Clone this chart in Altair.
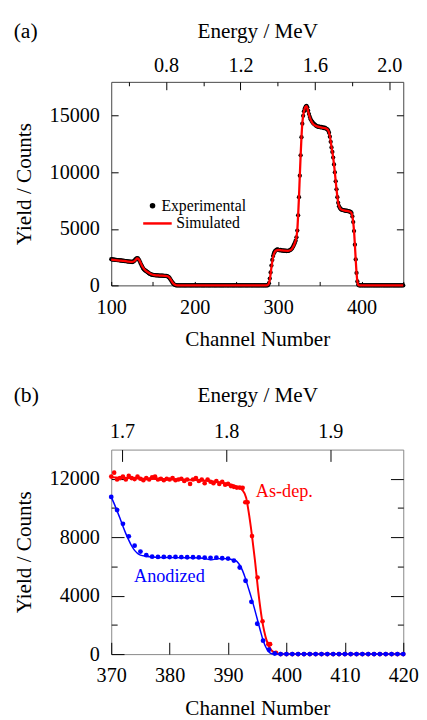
import altair as alt
import pandas as pd

SERIF = "Liberation Serif"

# ------------------------------------------------------------------ panel (a)
# experimental yield, one value per channel, split in segments (start channel, values)
exp_a_100 = [2320, 2290, 2300, 2270, 2280, 2250, 2260, 2240, 2230, 2240,
             2210, 2200, 2210, 2180, 2170, 2180, 2150, 2140, 2150, 2120,
             2110, 2120, 2100, 2080, 2090, 2070, 2090, 2130]
exp_a_128 = [2200, 2290, 2370, 2410, 2380, 2280, 2150, 1980, 1820, 1670,
             1530, 1420, 1360, 1300, 1250, 1200, 1140, 1080, 1030, 990,
             960, 940, 930, 910, 900, 895, 890, 880, 880, 870,
             870, 865, 860, 860, 855, 850, 845, 840, 830, 810,
             780, 720, 630, 520, 400, 290, 190, 110, 50, 15]
exp_a_178 = [0, 0, 10, 0, 0, 0, 0, 10, 0, 0,
             0, 0, 0, 0, 10, 0, 0, 0, 0, 0,
             0, 10, 0, 0, 0, 0, 0, 0, 10, 0,
             0, 0, 0, 0, 0, 0, 10, 0, 0, 0,
             0, 0, 0, 10, 0, 0, 0, 0, 0, 0,
             10, 0, 0, 0, 0, 0, 0, 0, 0, 10,
             0, 0, 0, 0, 0, 10, 0, 0, 0, 0,
             0, 0, 10, 0, 0, 0, 0, 0, 0, 0,
             0, 10, 0, 0, 0, 0, 0, 0, 10, 0,
             0, 0, 0, 0, 10, 0, 0, 0, 0, 0,
             0, 0, 10, 0, 0, 0, 0, 10, 0, 0]
exp_a_288 = [30, 200, 600, 1150, 1750, 2250, 2600, 2850, 3000, 3080,
             3150, 3180, 3160]
exp_a_301 = [3120, 3100, 3130, 3080, 3100, 3060, 3090, 3050, 3070, 3040,
             3060, 3050, 3080, 3100, 3150, 3220]
exp_a_317 = [3300, 3450, 3600, 3750, 3950, 4250, 4850, 6200, 7800, 9700,
             11500, 13100, 14300, 15000, 15400, 15650, 15800, 15880, 15750, 15450,
             15150, 14900, 14700, 14550, 14450, 14350, 14280, 14220, 14150]
exp_a_346 = [14100, 14050, 14020, 14060, 14000, 13980, 14020, 13950, 13980, 13900,
             13950, 13880, 13850, 13800, 13700, 13500, 13150, 12700, 12200, 11800,
             11300, 10700, 10000, 9200, 8500, 7800, 7300, 7000, 6850, 6750]
exp_a_376 = [6700, 6680, 6650, 6640, 6620, 6600, 6610, 6580, 6560, 6550,
             6520, 6500, 6400, 6100, 5600, 4800, 3600, 2300, 1100, 350, 60]
exp_a_397 = [0, 0, 0, 0, 10, 0, 0, 0, 0, 0,
             0, 0, 0, 0, 0, 10, 0, 0, 0, 0,
             0, 0, 0, 0, 0, 0, 0, 10, 0, 0,
             0, 0, 0, 0, 0, 0, 0, 0, 0, 10,
             0, 0, 0, 0, 0, 0, 0, 0, 0, 0,
             0, 10, 0, 0]
exp_a_segments = [(100, exp_a_100), (128, exp_a_128), (178, exp_a_178),
                  (288, exp_a_288), (301, exp_a_301), (317, exp_a_317),
                  (346, exp_a_346), (376, exp_a_376), (397, exp_a_397)]

sim_ch_a = [100, 105, 110, 115, 120, 125, 127, 129, 131, 133,
            135, 137, 139, 141, 144, 148, 152, 158, 164, 167,
            169, 171, 173, 175, 177, 179, 286, 288, 290, 292,
            294, 296, 298, 300, 304, 308, 312, 315, 317, 319,
            320, 321, 322, 323, 324, 325, 326, 327, 328, 329,
            330, 331, 332, 333, 334, 335, 336, 337, 338, 340,
            342, 345, 350, 355, 358, 360, 362, 364, 366, 368,
            370, 372, 374, 376, 380, 385, 387, 388, 389, 390,
            391, 392, 393, 394, 395, 396, 397, 450]
sim_a = [2280, 2240, 2200, 2160, 2110, 2080, 2110, 2230, 2380, 2300,
         2020, 1720, 1480, 1320, 1160, 990, 910, 870, 850, 820,
         740, 560, 320, 130, 30, 0, 0, 60, 500, 1600,
         2500, 2950, 3100, 3130, 3100, 3070, 3060, 3120, 3280, 3550,
         3750, 3950, 4300, 4900, 6200, 7800, 9700, 11500, 13100, 14300,
         15000, 15400, 15650, 15800, 15850, 15700, 15400, 15100, 14850, 14500,
         14280, 14120, 14000, 13920, 13850, 13720, 13200, 12250, 11300, 10000,
         8500, 7300, 6850, 6700, 6620, 6550, 6480, 6380, 6100, 5600,
         4800, 3600, 2300, 1100, 350, 60, 0, 0]

ch_domain_a = [100, 450]
y_domain_a = [0, 18000]
ch_labels_a = [100, 200, 300, 400]
ch_ticks_a = [100, 150, 200, 250, 300, 350, 400, 450]
y_ticks_a = [0, 5000, 10000, 15000]
energy_domain_a = [0.505, 2.075]
energy_major_a = [0.8, 1.2, 1.6, 2.0]
energy_minor_a = [0.6, 1.0, 1.4, 1.8]

# ------------------------------------------------------------------ panel (b)
asdep_ch = [370.0, 370.5, 371.0, 371.5, 372.0, 372.5, 373.0, 373.5, 374.0, 374.5,
            375.0, 375.5, 376.0, 376.5, 377.0, 377.5, 378.0, 378.5, 379.0, 379.5,
            380.0, 380.5, 381.0, 381.5, 382.0, 382.5, 383.0, 383.5, 384.0, 384.5,
            385.0, 385.5, 386.0, 386.5, 387.0, 387.5, 388.0, 388.5, 389.0, 389.5,
            390.0, 390.5, 391.0, 391.5, 392.0, 392.5,
            392.95, 393.35, 394.1, 395.05, 395.9, 396.9, 397.2, 398.2,
            399, 400, 401, 402, 403, 404, 405, 406, 407, 408,
            409, 410, 411, 412, 413, 414, 415, 416, 417, 418, 419, 420]
asdep_y = [12150, 12420, 11950, 12050, 12150, 11950, 12200, 12050, 11980, 12150,
           12000, 11900, 12050, 11950, 12100, 12150, 11950, 12000, 11900, 12000,
           11950, 12050, 11900, 11950, 12000, 11850, 11950, 11650, 11950, 12050,
           11850, 11950, 11700, 11950, 11800, 11700, 11850, 11650, 11800, 11600,
           11650, 11500, 11450, 11400, 11400, 11380,
           10400, 10400, 8080, 5240, 2250, 680, 680, 90,
           0, 0, 0, 0, 0, 0, 0, 0, 0, 0,
           0, 0, 0, 0, 0, 0, 0, 0, 0, 0, 0, 0]
asdep_line_ch = [370, 373, 376, 379, 382, 385, 388, 390, 391, 391.6,
                 392.4, 393.1, 393.5, 394.1, 394.6, 395.2, 395.8, 396.6, 397.4, 398.3,
                 399, 420]
asdep_line_y = [12100, 12050, 12000, 11980, 11950, 11900, 11800, 11650, 11550, 11450,
                11250, 10700, 9800, 8100, 6430, 4190, 2400, 940, 270, 50,
                0, 0]

anod_ch = list(range(370, 421))
anod_y = [10760, 9860, 8920, 8060, 7420, 7020, 6770, 6670, 6650, 6650,
          6640, 6650, 6640, 6630, 6630, 6620, 6600, 6590, 6600, 6560,
          6540, 6400, 5930, 5020, 3580, 2080, 920, 300, 40, 0,
          0, 0, 0, 0, 0, 0, 0, 0, 0, 0,
          0, 0, 0, 0, 0, 0, 0, 0, 0, 0, 0]
anod_line_ch = [370, 370.5, 371, 371.5, 372, 372.5, 373, 373.5, 374, 374.5,
                375, 376, 377, 378, 380, 382, 384, 386, 387, 388,
                389, 390, 391, 391.5, 392, 392.5, 393, 393.5, 394, 394.5,
                395, 395.5, 396, 396.5, 397, 397.5, 398, 420]
anod_line_y = [10750, 10300, 9800, 9300, 8750, 8250, 7800, 7400, 7100, 6900,
               6780, 6700, 6650, 6620, 6610, 6600, 6590, 6550, 6450, 6520,
               6540, 6520, 6450, 6350, 6100, 5700, 5150, 4500, 3850, 3150,
               2400, 1650, 950, 450, 150, 30, 0, 0]

notes_b = ["As-dep.", "Anodized"]
notes_ch = [394.75, 373.9]
notes_y = [11190, 5360]
notes_color = ["red", "blue"]

ch_domain_b = [370, 420]
y_domain_b = [0, 14000]
ch_ticks_b = [370, 380, 390, 400, 410, 420]
y_major_b = [0, 4000, 8000, 12000]
y_minor_b = [2000, 6000, 10000]
energy_domain_b = [1.6896, 1.970]
energy_major_b = [1.7, 1.8, 1.9]

# ------------------------------------------------------------------ helpers
W = 297
H_A, H_B = 207, 208
LABEL_SIZE = 20.5
TITLE_SIZE = 21.5


def label_axis(orient, values, title, fmt, pad, tpad):
    return alt.Axis(orient=orient, values=values, title=title, format=fmt,
                    ticks=False, tickSize=0, domain=False, grid=False,
                    labelPadding=pad, titlePadding=tpad, labelFlush=False,
                    labelOverlap=False, labelFont=SERIF, labelFontSize=LABEL_SIZE,
                    labelColor="black", titleFont=SERIF, titleFontSize=TITLE_SIZE,
                    titleFontWeight="normal", titleColor="black")


def tick_axis(orient, values, size):
    return alt.Axis(orient=orient, values=values, labels=False, title=None,
                    domain=False, grid=False, ticks=True,
                    tickSize=alt.ExprRef(expr=str(-size)),
                    tickColor="black", tickWidth=1)


def qscale(dom):
    return alt.Scale(domain=dom, nice=False, zero=False)


# ------------------------------------------------------------------ build (a)
ch_a, exp_a = [], []
for start, vals in exp_a_segments:
    ch_a += list(range(start, start + len(vals)))
    exp_a += vals

df_exp_a = pd.DataFrame({"ch": ch_a, "y": exp_a, "series": "Experimental"})
df_sim_a = pd.DataFrame({"ch": sim_ch_a, "y": sim_a, "series": "Simulated"})
df_dum_a = pd.DataFrame({"xv": [energy_major_a[1]], "yv": [y_ticks_a[0]]})

pts_a = alt.Chart(df_exp_a).mark_circle(size=19, opacity=1).encode(
    x=alt.X("ch:Q", scale=qscale(ch_domain_a),
            axis=label_axis("bottom", ch_labels_a, "Channel Number", "d", 13, 11)),
    y=alt.Y("y:Q", scale=qscale(y_domain_a),
            axis=label_axis("left", y_ticks_a, "Yield / Counts", "d", 12, 14)),
    fill=alt.Fill("series:N", scale=alt.Scale(domain=["Experimental"], range=["black"]),
                  legend=alt.Legend(title=None, orient="none", legendX=34, legendY=118,
                                    symbolType="circle", symbolSize=32,
                                    labelFont=SERIF, labelFontSize=16, labelColor="black",
                                    labelOffset=1, padding=0)),
)
line_a = alt.Chart(df_sim_a).mark_line(strokeWidth=2.3, interpolate="monotone").encode(
    x=alt.X("ch:Q", scale=qscale(ch_domain_a), axis=tick_axis("bottom", ch_ticks_a, 4)),
    y=alt.Y("y:Q", scale=qscale(y_domain_a), axis=tick_axis("right", y_ticks_a, 7)),
    stroke=alt.Stroke("series:N", scale=alt.Scale(domain=["Simulated"], range=["red"]),
                      legend=alt.Legend(title=None, orient="none", legendX=31, legendY=128,
                                        symbolType="stroke", symbolSize=841,
                                        symbolStrokeWidth=2.5,
                                        labelFont=SERIF, labelFontSize=16, labelColor="black",
                                        labelOffset=3, padding=0)),
)
dum_a1 = alt.Chart(df_dum_a).mark_point(opacity=0).encode(
    x=alt.X("xv:Q", scale=qscale(energy_domain_a),
            axis=label_axis("top", energy_major_a, "Energy / MeV", ".1f", 6.5, 13.5)),
    y=alt.Y("yv:Q", scale=qscale(y_domain_a), axis=tick_axis("left", y_ticks_a, 7)),
)
dum_a2 = alt.Chart(df_dum_a).mark_point(opacity=0).encode(
    x=alt.X("xv:Q", scale=qscale(energy_domain_a), axis=tick_axis("top", energy_major_a, 8)),
    y=alt.Y("yv:Q", scale=qscale(y_domain_a), axis=None),
)
dum_a3 = alt.Chart(df_dum_a).mark_point(opacity=0).encode(
    x=alt.X("xv:Q", scale=qscale(energy_domain_a), axis=tick_axis("top", energy_minor_a, 4)),
    y=alt.Y("yv:Q", scale=qscale(y_domain_a), axis=None),
)

panel_a = alt.layer(pts_a, line_a, dum_a1, dum_a2, dum_a3).resolve_scale(
    x="independent").resolve_axis(x="independent", y="independent").properties(
    width=W, height=H_A,
    title=alt.TitleParams("(a)", anchor="start", frame="bounds", font=SERIF, fontSize=22,
                          fontWeight="normal", color="black", offset=-22),
    view=alt.ViewBackground(stroke="#444"),
)

# ------------------------------------------------------------------ build (b)
df_asdep = pd.DataFrame({"ch": asdep_ch, "y": asdep_y})
df_asdep_l = pd.DataFrame({"ch": asdep_line_ch, "y": asdep_line_y})
df_anod = pd.DataFrame({"ch": anod_ch, "y": anod_y})
df_anod_l = pd.DataFrame({"ch": anod_line_ch, "y": anod_line_y})
df_notes = pd.DataFrame({"ch": notes_ch, "y": notes_y, "t": notes_b, "c": notes_color})
df_dum_b = pd.DataFrame({"xv": [energy_major_b[1]], "yv": [y_major_b[0]]})

xb = qscale(ch_domain_b)
yb = qscale(y_domain_b)

pts_r = alt.Chart(df_asdep).mark_circle(size=22, opacity=1, color="red").encode(
    x=alt.X("ch:Q", scale=xb, axis=label_axis("bottom", ch_ticks_b, "Channel Number", "d", 11.7, 12.4)),
    y=alt.Y("y:Q", scale=yb, axis=label_axis("left", y_major_b, "Yield / Counts", "d", 12, 14)),
)
line_r = alt.Chart(df_asdep_l).mark_line(strokeWidth=2, color="red", interpolate="monotone").encode(
    x=alt.X("ch:Q", scale=xb, axis=tick_axis("bottom", ch_ticks_b, 12)),
    y=alt.Y("y:Q", scale=yb, axis=tick_axis("right", y_major_b, 13)),
)
pts_bl = alt.Chart(df_anod).mark_circle(size=24, opacity=1, color="blue").encode(
    x=alt.X("ch:Q", scale=xb, axis=None),
    y=alt.Y("y:Q", scale=yb, axis=tick_axis("right", y_minor_b, 6)),
)
line_bl = alt.Chart(df_anod_l).mark_line(strokeWidth=1.5, color="blue", interpolate="monotone").encode(
    x=alt.X("ch:Q", scale=xb, axis=None),
    y=alt.Y("y:Q", scale=yb, axis=tick_axis("left", y_major_b, 13)),
)
notes = alt.Chart(df_notes).mark_text(align="left", baseline="middle", font=SERIF,
                                      fontSize=18.5).encode(
    x=alt.X("ch:Q", scale=xb, axis=None),
    y=alt.Y("y:Q", scale=yb, axis=None),
    text="t:N",
    color=alt.Color("c:N", scale=None),
)
dum_b1 = alt.Chart(df_dum_b).mark_point(opacity=0).encode(
    x=alt.X("xv:Q", scale=qscale(energy_domain_b),
            axis=label_axis("top", energy_major_b, "Energy / MeV", ".1f", 8, 15.5)),
    y=alt.Y("yv:Q", scale=yb, axis=tick_axis("left", y_minor_b, 6)),
)
dum_b2 = alt.Chart(df_dum_b).mark_point(opacity=0).encode(
    x=alt.X("xv:Q", scale=qscale(energy_domain_b), axis=tick_axis("top", energy_major_b, 12)),
    y=alt.Y("yv:Q", scale=yb, axis=None),
)

panel_b = alt.layer(pts_r, line_r, pts_bl, line_bl, notes, dum_b1, dum_b2).resolve_scale(
    x="independent").resolve_axis(x="independent", y="independent").properties(
    width=W, height=H_B,
    title=alt.TitleParams("(b)", anchor="start", frame="bounds", font=SERIF, fontSize=22,
                          fontWeight="normal", color="black", offset=-22),
    view=alt.ViewBackground(stroke="#888"),
)

chart = alt.vconcat(panel_a, panel_b, spacing=33).resolve_scale(
    fill="independent", stroke="independent", color="independent"
).properties(
    padding={"left": 5, "top": 5, "right": 0, "bottom": 0}
).configure(font=SERIF).configure_axis(
    labelFont=SERIF, labelFontSize=LABEL_SIZE, labelColor="black",
    titleFont=SERIF, titleFontSize=TITLE_SIZE, titleFontWeight="normal", titleColor="black",
)

chart.save("out.html", embed_options={"renderer": "svg", "actions": False})
